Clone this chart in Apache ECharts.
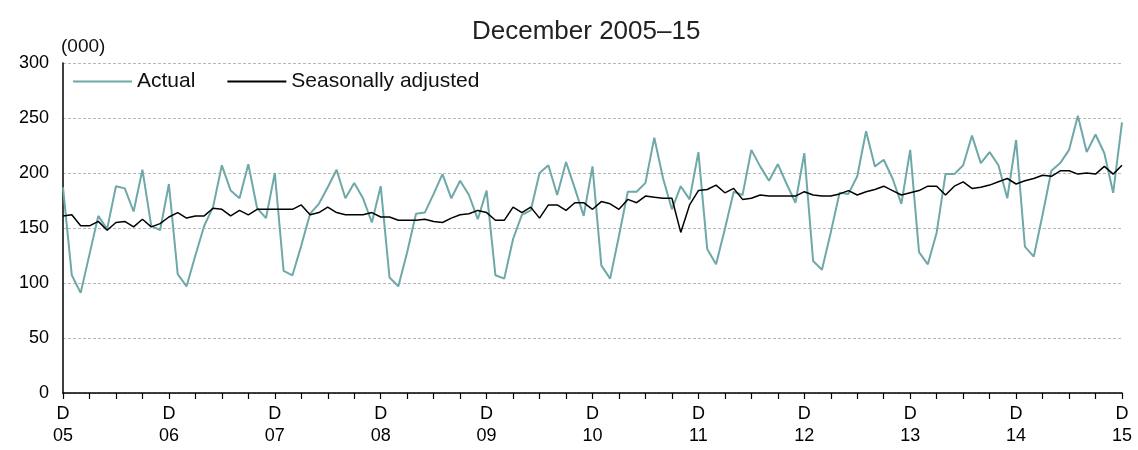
<!DOCTYPE html>
<html>
<head>
<meta charset="utf-8">
<title>December 2005–15</title>
<script src="https://cdn.jsdelivr.net/npm/echarts@6/dist/echarts.min.js"></script>
<style>
  html, body { margin: 0; padding: 0; background: #fff; }
  #chart { width: 1138px; height: 450px; }
</style>
</head>
<body>
<div id="chart"></div>
<script>
// one label per year, shown under each December
const yearLabels = ['05', '06', '07', '08', '09', '10', '11', '12', '13', '14', '15'];
const monthNames = ['Dec', 'Jan', 'Feb', 'Mar', 'Apr', 'May', 'Jun', 'Jul', 'Aug', 'Sep', 'Oct', 'Nov'];

// monthly values, Dec 2005 to Dec 2015 (000)
const actual = [
  187, 107, 91, 126, 161, 149, 188, 186, 165, 203, 152, 148,
  190, 108, 97, 125, 152, 169, 207, 184, 177, 208, 168, 159,
  200, 111, 107, 134, 163, 172, 187, 203, 177, 191, 177, 155,
  188, 105, 97, 128, 163, 164, 181, 199, 177, 193, 180, 158,
  184, 107, 104, 140, 162, 166, 200, 207, 180, 210, 186, 161,
  206, 116, 104, 143, 183, 183, 191, 232, 195, 167, 188, 176,
  219, 131, 117, 149, 183, 180, 221, 206, 193, 208, 190, 173,
  218, 120, 112, 146, 182, 181, 197, 238, 206, 212, 195, 172,
  221, 128, 117, 146, 199, 199, 207, 234, 209, 219, 207, 177,
  230, 133, 124, 162, 202, 209, 221, 252, 219, 235, 218, 182,
  246
];
const seasonallyAdjusted = [
  161, 162, 152, 152, 156, 148, 155, 156, 151, 158, 151, 154,
  160, 164, 159, 161, 161, 168, 167, 161, 166, 162, 167, 167,
  167, 167, 167, 171, 162, 164, 169, 164, 162, 162, 162, 164,
  160, 160, 157, 157, 157, 158, 156, 155, 159, 162, 163, 166,
  164, 157, 157, 169, 164, 169, 159, 171, 171, 166, 173, 173,
  167, 174, 172, 167, 176, 173, 179, 178, 177, 177, 146, 171,
  184, 185, 189, 182, 186, 176, 177, 180, 179, 179, 179, 179,
  183, 180, 179, 179, 181, 184, 180, 183, 185, 188, 184, 180,
  182, 184, 188, 188, 180, 188, 192, 186, 187, 189, 192, 195,
  190, 193, 195, 198, 197, 202, 202, 199, 200, 199, 206, 199,
  207
];

const categories = actual.map((v, i) => {
  const yr = yearLabels[Math.floor((i + 11) / 12)] || '15';
  return monthNames[i % 12] + ' ' + yr;
});

const font = 'Arial, "Liberation Sans", sans-serif';
const chart = echarts.init(document.getElementById('chart'));

chart.setOption({
  animation: false,
  backgroundColor: '#fff',
  title: {
    text: 'December 2005–15',
    left: 467,
    top: 14,
    textStyle: { fontFamily: font, fontSize: 26, fontWeight: 'normal', color: '#222' }
  },
  legend: {
    left: 68,
    top: 66,
    itemWidth: 59,
    itemHeight: 2,
    itemGap: 32,
    icon: 'rect',
    textStyle: { fontFamily: font, fontSize: 21, color: '#111' },
    data: ['Actual', 'Seasonally adjusted']
  },
  grid: { left: 63, right: 16, top: 63, bottom: 57 },
  xAxis: {
    type: 'category',
    data: categories,
    boundaryGap: false,
    axisLine: { lineStyle: { color: '#000', width: 1.5 } },
    axisTick: {
      show: true,
      interval: idx => idx % 3 === 0,
      length: 6,
      lineStyle: { color: '#000', width: 1.2 }
    },
    axisLabel: {
      interval: idx => idx % 12 === 0,
      formatter: (val, idx) => 'D\n' + yearLabels[idx / 12],
      fontFamily: font,
      fontSize: 18,
      lineHeight: 22,
      color: '#000',
      margin: 10
    },
    splitLine: { show: false }
  },
  yAxis: {
    type: 'value',
    min: 0,
    max: 300,
    interval: 50,
    name: '(000)',
    nameLocation: 'end',
    nameGap: 7,
    nameTextStyle: { fontFamily: font, fontSize: 19, color: '#111', align: 'left', padding: [0, 0, 0, -2] },
    axisLine: { show: true, lineStyle: { color: '#000', width: 1.5 } },
    axisTick: { show: false },
    axisLabel: { fontFamily: font, fontSize: 18, color: '#000', margin: 14 },
    splitLine: { lineStyle: { color: '#b8b8b8', type: [3, 2], width: 1 } }
  },
  series: [
    {
      name: 'Actual',
      type: 'line',
      data: actual,
      showSymbol: false,
      symbol: 'none',
      lineStyle: { color: '#6ea8a8', width: 2 },
      itemStyle: { color: '#6ea8a8' },
      z: 2
    },
    {
      name: 'Seasonally adjusted',
      type: 'line',
      data: seasonallyAdjusted,
      showSymbol: false,
      symbol: 'none',
      lineStyle: { color: '#000', width: 1.5 },
      itemStyle: { color: '#000' },
      z: 3
    }
  ]
});
</script>
</body>
</html>
